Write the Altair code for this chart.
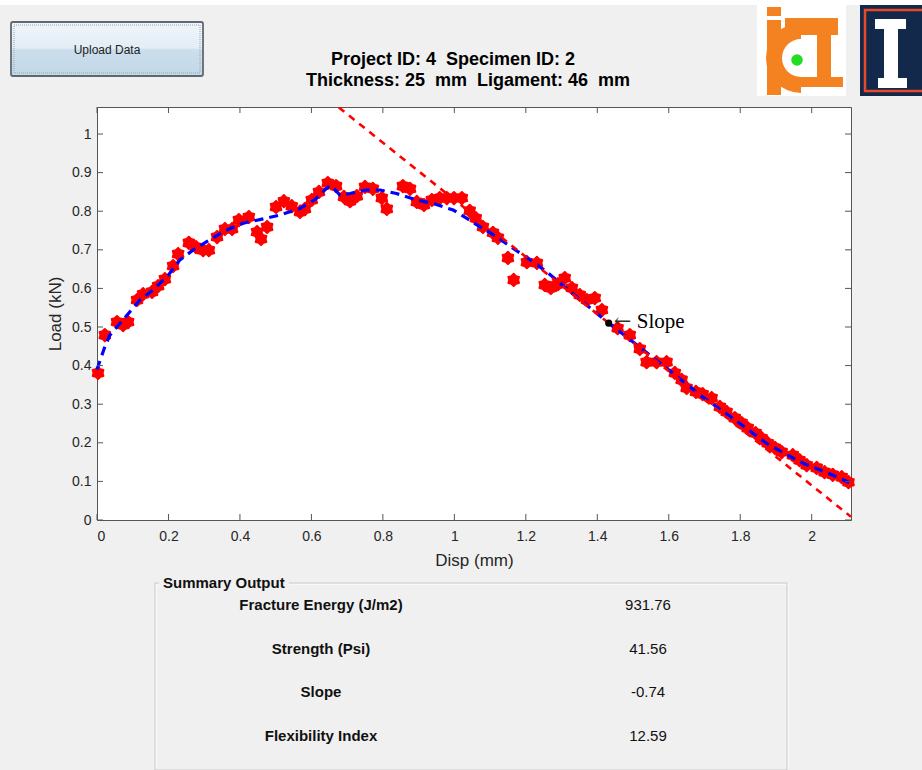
import altair as alt
import pandas as pd

# Load–displacement record (Disp in mm, Load in kN)
disp = [0.003, 0.022, 0.056, 0.073, 0.087, 0.112, 0.129, 0.154, 0.171, 0.190,
        0.213, 0.227, 0.257, 0.277, 0.297, 0.313, 0.336, 0.358, 0.378, 0.397,
        0.425, 0.448, 0.459, 0.476, 0.501, 0.523, 0.545, 0.568, 0.582, 0.601,
        0.621, 0.646, 0.669, 0.691, 0.708, 0.727, 0.750, 0.772, 0.797, 0.811,
        0.856, 0.876, 0.895, 0.915, 0.937, 0.959, 0.979, 0.999, 1.021, 1.043,
        1.060, 1.080, 1.108, 1.122, 1.150, 1.166, 1.203, 1.231, 1.253, 1.270,
        1.290, 1.309, 1.329, 1.351, 1.371, 1.393, 1.413, 1.457, 1.491, 1.519,
        1.538, 1.566, 1.594, 1.617, 1.636, 1.650, 1.676, 1.695, 1.720, 1.743,
        1.762, 1.785, 1.804, 1.821, 1.843, 1.860, 1.877, 1.897, 1.916, 1.947,
        1.966, 1.986, 2.014, 2.036, 2.059, 2.084, 2.103]
load = [0.381, 0.479, 0.513, 0.505, 0.513, 0.570, 0.585, 0.591, 0.606, 0.624,
        0.658, 0.689, 0.718, 0.707, 0.699, 0.699, 0.733, 0.754, 0.754, 0.777,
        0.785, 0.746, 0.728, 0.759, 0.811, 0.826, 0.813, 0.798, 0.806, 0.829,
        0.850, 0.873, 0.865, 0.837, 0.826, 0.839, 0.863, 0.858, 0.834, 0.806,
        0.865, 0.858, 0.824, 0.816, 0.829, 0.834, 0.834, 0.834, 0.834, 0.801,
        0.782, 0.759, 0.744, 0.731, 0.679, 0.622, 0.668, 0.666, 0.609, 0.601,
        0.611, 0.627, 0.601, 0.583, 0.570, 0.575, 0.544, 0.497, 0.479, 0.443,
        0.409, 0.409, 0.409, 0.381, 0.363, 0.342, 0.332, 0.326, 0.316, 0.293,
        0.280, 0.264, 0.251, 0.238, 0.225, 0.212, 0.199, 0.187, 0.176, 0.168,
        0.155, 0.142, 0.135, 0.124, 0.117, 0.111, 0.098]

# Fitted curve through the record
fit_disp = [0.0, 0.022, 0.036, 0.088, 0.12, 0.157, 0.2, 0.232, 0.27, 0.307,
            0.353, 0.409, 0.465, 0.512, 0.568, 0.61, 0.642, 0.655, 0.68, 0.708,
            0.754, 0.792, 0.838, 0.894, 0.941, 0.997, 1.034, 1.071, 1.118, 1.164,
            1.22, 1.258, 1.34, 1.432, 1.52, 1.607, 1.687, 1.78, 1.873, 1.966,
            2.05, 2.105]
fit_load = [0.39, 0.449, 0.479, 0.535, 0.57, 0.596, 0.635, 0.674, 0.70, 0.721,
            0.747, 0.769, 0.78, 0.79, 0.807, 0.83, 0.859, 0.866, 0.842, 0.846,
            0.855, 0.855, 0.846, 0.829, 0.82, 0.803, 0.782, 0.76, 0.734, 0.704,
            0.669, 0.643, 0.58, 0.51, 0.447, 0.384, 0.324, 0.263, 0.199, 0.151,
            0.12, 0.097]

# Inflection point where the post-peak slope is taken
slope_disp = 1.432
slope_load = 0.510

# Summary output
summary_names = ["Fracture Energy (J/m2)", "Strength (Psi)", "Slope", "Flexibility Index"]
summary_values = ["931.76", "41.56", "-0.74", "12.59"]

x_ticks = [0, 0.2, 0.4, 0.6, 0.8, 1, 1.2, 1.4, 1.6, 1.8, 2]
y_ticks = [0, 0.1, 0.2, 0.3, 0.4, 0.5, 0.6, 0.7, 0.8, 0.9, 1]

title_lines = ["Project ID: 4\u00a0\u00a0Specimen ID: 2",
               "Thickness: 25\u00a0\u00a0mm\u00a0\u00a0Ligament: 46\u00a0\u00a0mm"]

# ---------------------------------------------------------------- layout
W, H = 754, 413          # plot area
LEFT, TOP = 97, 107      # plot origin inside the 922 x 770 figure
SANS = "Liberation Sans"
INK = "#262626"


def ax(px):
    return px - LEFT


def ay(py):
    return py - TOP


slope_value = float(summary_values[2])
tangent_disp = [0.62, 2.11]
tangent_load = [slope_load + slope_value * (d - slope_disp) for d in tangent_disp]

pts = pd.DataFrame({"disp": disp, "load": load})
fit = pd.DataFrame({"disp": fit_disp, "load": fit_load})
tan = pd.DataFrame({"disp": tangent_disp, "load": tangent_load})
sp = pd.DataFrame({"disp": [slope_disp], "load": [slope_load],
                   "arrow": ["\u2190"], "label": ["Slope"]})
xt = pd.DataFrame({"disp": x_ticks})
yt = pd.DataFrame({"load": y_ticks})
ONE = pd.DataFrame({"k": [0]})

xscale = alt.Scale(domain=[0, 2.11], nice=False, zero=False)
yscale = alt.Scale(domain=[0, 1.07], nice=False, zero=False)
xaxis = alt.Axis(values=x_ticks, format="~g", ticks=False, tickSize=0, domain=False,
                 grid=False, labelFont=SANS, labelFontSize=14, labelColor=INK,
                 labelPadding=9, title="Disp (mm)", titleFont=SANS, titleFontSize=17,
                 titleFontWeight="normal", titleColor=INK, titlePadding=9)
yaxis = alt.Axis(values=y_ticks, format="~g", ticks=False, tickSize=0, domain=False,
                 grid=False, labelFont=SANS, labelFontSize=14, labelColor=INK,
                 labelPadding=6, title="Load (kN)", titleFont=SANS, titleFontSize=17,
                 titleFontWeight="normal", titleColor=INK, titlePadding=7)
X = alt.X("disp:Q", scale=xscale, axis=xaxis)
Y = alt.Y("load:Q", scale=yscale, axis=yaxis)

# six-pointed, rounded star marker
STAR = ("M0,-1L0.38,-0.62L0.87,-0.5L0.74,0L0.87,0.5L0.38,0.62L0,1L-0.38,0.62"
        "L-0.87,0.5L-0.74,0L-0.87,-0.5L-0.38,-0.62Z")

points = alt.Chart(pts).mark_point(
    shape=STAR, filled=True, size=150, color="#ff0000", opacity=1,
    stroke="#ff0000", strokeWidth=2, strokeJoin="round"
).encode(x=X, y=Y)

fit_line = alt.Chart(fit).mark_line(
    color="#0000ff", strokeWidth=3.2, strokeDash=[9, 6]
).encode(x=X, y=Y)

tangent = alt.Chart(tan).mark_line(
    color="#ff0000", strokeWidth=2.6, strokeDash=[7, 6], clip=True
).encode(x=X, y=Y)

slope_dot = alt.Chart(sp).mark_circle(color="black", size=50, opacity=1).encode(x=X, y=Y)
slope_arrow = alt.Chart(sp).mark_text(
    font="DejaVu Serif", fontSize=21, align="left", baseline="middle", dx=5, dy=-1,
    color="#333"
).encode(x=X, y=Y, text="arrow:N")
slope_txt = alt.Chart(sp).mark_text(
    font="Liberation Serif", fontSize=21, align="left", baseline="middle", dx=28, dy=-1,
    color="black"
).encode(x=X, y=Y, text="label:N")

# inward tick marks on all four sides
tick_len = 6
ticks = [
    alt.Chart(xt).mark_rule(color="#555", strokeWidth=1).encode(
        x=X, y=alt.value(H), y2=alt.value(H - tick_len)),
    alt.Chart(xt).mark_rule(color="#555", strokeWidth=1).encode(
        x=X, y=alt.value(0), y2=alt.value(tick_len)),
    alt.Chart(yt).mark_rule(color="#555", strokeWidth=1).encode(
        y=Y, x=alt.value(0), x2=alt.value(tick_len)),
    alt.Chart(yt).mark_rule(color="#555", strokeWidth=1).encode(
        y=Y, x=alt.value(W), x2=alt.value(W - tick_len)),
]


def box(x1, y1, x2, y2, **style):
    return alt.Chart(ONE).mark_rect(**style).encode(
        x=alt.value(ax(x1)), x2=alt.value(ax(x2)),
        y=alt.value(ay(y1)), y2=alt.value(ay(y2)))


def label(txt, x, y, **style):
    return alt.Chart(ONE).mark_text(text=txt, **style).encode(
        x=alt.value(ax(x)), y=alt.value(ay(y)))


def disc(x, y, r, color):
    return alt.Chart(ONE).mark_circle(color=color, size=3.1416 * r * r, opacity=1).encode(
        x=alt.value(ax(x)), y=alt.value(ay(y)))


ORANGE = "#f58220"
deco = []

# white strip along the top of the window
deco.append(box(0, 0, 922, 5, color="white"))

# "Upload Data" button
btn_fill = alt.Gradient(
    gradient="linear", x1=0, x2=0, y1=0, y2=1,
    stops=[alt.GradientStop(color="#f0f5fa", offset=0),
           alt.GradientStop(color="#e3edf6", offset=0.48),
           alt.GradientStop(color="#cadeec", offset=0.52),
           alt.GradientStop(color="#c3d8e8", offset=1)])
deco.append(box(11, 22, 203, 76, color=btn_fill, stroke="#5f6870", strokeWidth=1.8,
                cornerRadius=2))
deco.append(box(14, 25, 200, 73, fill=None, stroke="#9aa4ad", strokeWidth=1,
                strokeDash=[1, 1]))
deco.append(label("Upload Data", 107, 50, font=SANS, fontSize=12, color="#222",
                  align="center", baseline="middle"))

# figure title
deco.append(label(title_lines[0], 453, 60, font=SANS, fontSize=18, fontWeight="bold",
                  color="black", align="center", baseline="middle"))
deco.append(label(title_lines[1], 468, 81, font=SANS, fontSize=18, fontWeight="bold",
                  color="black", align="center", baseline="middle"))

# ICT emblem
deco.append(box(757, 5, 846, 96, color="white"))
deco.append(box(767, 7, 781, 16, color=ORANGE))
deco.append(box(767, 20, 781, 95, color=ORANGE))
deco.append(alt.Chart(ONE).mark_arc(
    color=ORANGE, radius=35, radius2=19, theta=3.1416, theta2=6.2832
).encode(x=alt.value(ax(801)), y=alt.value(ay(58))))
deco.append(box(785, 18, 838, 35, color=ORANGE))
deco.append(box(817, 35, 831, 79, color=ORANGE))
deco.append(box(781, 77, 843, 87, color=ORANGE))
deco.append(disc(797, 60, 6.5, "#22dd22"))

# university emblem
deco.append(box(860, 5, 922, 96, color="#13294b"))
deco.append(box(865, 10, 926, 91, fill=None, stroke="#e84a27", strokeWidth=2.5))
deco.append(box(875, 19, 906, 29, color="white"))
deco.append(box(884, 29, 898, 78, color="white"))
deco.append(box(878, 78, 907, 88, color="white"))

# summary output group box
deco.append(box(156, 584, 788, 771, fill=None, stroke="white", strokeWidth=1))
deco.append(box(155, 583, 787, 770, fill=None, stroke="#c9c9c9", strokeWidth=1))
deco.append(box(159, 574, 289, 592, color="#f0f0f0"))
deco.append(label("Summary Output", 163, 583, font=SANS, fontSize=15, fontWeight="bold",
                  color="#111", align="left", baseline="middle"))
row_y = [605, 649, 692, 736]
for name, val, yy in zip(summary_names, summary_values, row_y):
    deco.append(label(name, 321, yy, font=SANS, fontSize=15, fontWeight="bold",
                      color="#111", align="center", baseline="middle"))
    deco.append(label(val, 648, yy, font=SANS, fontSize=15, color="#111",
                      align="center", baseline="middle"))

chart = alt.layer(
    points, fit_line, tangent, slope_dot, slope_arrow, slope_txt, *ticks, *deco
).properties(
    width=W, height=H,
    autosize=alt.AutoSizeParams(type="none"),
    padding={"left": LEFT, "top": TOP, "right": 922 - LEFT - W, "bottom": 770 - TOP - H},
).configure(
    background="#f0f0f0",
).configure_view(
    fill="white", stroke="#555", strokeWidth=1,
)

chart.save("out.html", embed_options={"renderer": "svg", "actions": False})
